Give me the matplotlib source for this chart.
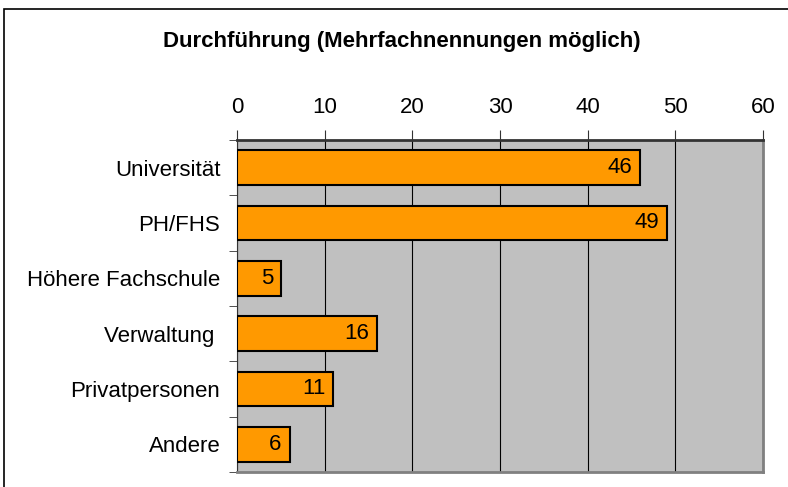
import matplotlib.pyplot as plt
from matplotlib.patches import Rectangle

plt.rcParams['font.family'] = ['Liberation Sans', 'DejaVu Sans']

categories = ["Universität", "PH/FHS", "Höhere Fachschule", "Verwaltung ", "Privatpersonen", "Andere"]
values = [46, 49, 5, 16, 11, 6]
ticks = [0, 10, 20, 30, 40, 50, 60]

fig = plt.figure(figsize=(7.88, 4.87), dpi=100)
ax = fig.add_axes([237/788, 1-472/487, 526/788, 332/487])

# outer chart frame
fig.patches.append(Rectangle((4/788, -0.05), 1.1, 1-9/487+0.05, transform=fig.transFigure,
                             fill=False, edgecolor='black', linewidth=1.2))

ax.set_facecolor('#c0c0c0')
pos = list(range(len(categories)))
bars = ax.barh(pos, values, height=0.63, color='#ff9900', edgecolor='black', linewidth=1.5, zorder=3)

for y, v in zip(pos, values):
    ax.text(v - 0.9, y, str(v), ha='right', va='center', fontsize=16, zorder=4)

ax.set_xlim(0, 60)
ax.set_ylim(len(categories) - 0.5, -0.5)
ax.set_xticks(ticks)
ax.xaxis.tick_top()
ax.tick_params(axis='x', direction='out', length=7, labelsize=16, pad=9, color='#333333')
ax.set_yticks(pos)
ax.set_yticklabels(categories, fontsize=16)
ax.tick_params(axis='y', length=0, pad=12)
# minor ticks at category boundaries
ax.set_yticks([p - 0.5 for p in pos] + [len(categories) - 0.5], minor=True)
ax.tick_params(axis='y', which='minor', length=6, direction='out', color='#333333')

ax.grid(axis='x', color='black', linewidth=0.8, zorder=1)
ax.set_axisbelow(True)

ax.spines['top'].set_color('#333333')
ax.spines['top'].set_linewidth(2)
ax.spines['left'].set_color('#333333')
ax.spines['left'].set_linewidth(0.8)
ax.spines['right'].set_color('#808080')
ax.spines['right'].set_linewidth(2)
ax.spines['bottom'].set_color('#808080')
ax.spines['bottom'].set_linewidth(2)

fig.text(402/788, 1-42/487, "Durchführung (Mehrfachnennungen möglich)", ha='center', va='center',
         fontsize=16, fontweight='bold')

fig.savefig("out.png", dpi=100)
